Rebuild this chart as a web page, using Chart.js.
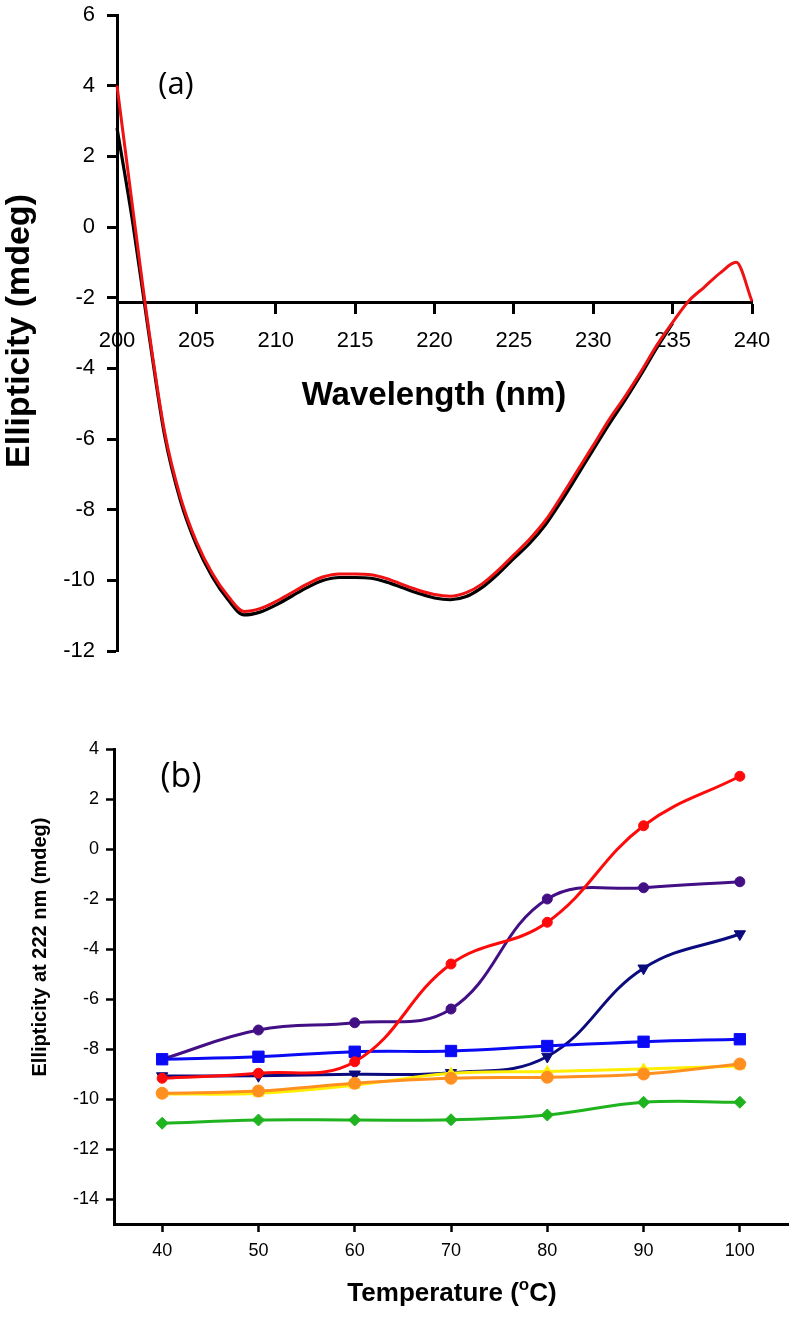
<!DOCTYPE html>
<html>
<head>
<meta charset="utf-8">
<script src="https://cdn.jsdelivr.net/npm/chart.js@4.4.1/dist/chart.umd.min.js"></script>
<style>
html,body{margin:0;padding:0;background:#fff;width:797px;height:1317px;overflow:hidden;}
#wrapA{position:absolute;left:0;top:0;width:797px;height:660px;}
#wrapB{position:absolute;left:0;top:660px;width:797px;height:657px;}
canvas{display:block;}
</style>
</head>
<body>
<div id="wrapA"><canvas id="chartA" width="797" height="660"></canvas></div>
<div id="wrapB"><canvas id="chartB" width="797" height="657"></canvas></div>
<script>
// ---------- Panel (a) data ----------
const wavelengths = [200,201,202,203,204,205,206,207,208,209,210,211,212,213,214,215,216,217,218,219,220,
                     221,222,223,224,225,226,227,228,229,230,231,232,233,234,235,236,237,238,239,240];
const redSpectrum = [4.0,0.5,-2.9,-5.8,-7.65,-8.9,-9.8,-10.45,-10.88,-10.8,-10.6,-10.35,-10.1,-9.9,-9.82,-9.82,-9.84,-9.95,-10.12,-10.28,-10.4,
                     -10.45,-10.35,-10.1,-9.72,-9.28,-8.83,-8.3,-7.62,-6.9,-6.18,-5.45,-4.8,-4.1,-3.35,-2.7,-2.1,-1.7,-1.3,-1.0,-2.1];
const blackWavelengths = [200,201,202,203,204,205,206,207,208,209,210,211,212,213,214,215,216,217,218,219,220,
                          221,222,223,224,225,226,227,228,229,230,231,232,233,234,235];
const blackSpectrum = [2.8,0.1,-3.0,-5.9,-7.75,-9.0,-9.9,-10.55,-10.98,-10.9,-10.7,-10.45,-10.2,-10.0,-9.92,-9.92,-9.94,-10.05,-10.21,-10.37,-10.5,
                       -10.55,-10.46,-10.2,-9.82,-9.38,-8.95,-8.42,-7.75,-7.03,-6.3,-5.58,-4.9,-4.18,-3.42,-2.72];
const wavelengthTicks = [200,205,210,215,220,225,230,235,240];
const ellipticityTicksA = [6,4,2,0,-2,-4,-6,-8,-10,-12];

// ---------- Panel (b) data ----------
const temperatures = [40,50,60,70,80,90,100];
const seriesRed    = [-9.17,-8.97,-8.51,-4.60,-2.93,0.93,2.91];
const seriesIndigo = [-8.41,-7.24,-6.95,-6.40,-2.00,-1.55,-1.31];
const seriesNavy   = [-9.08,-9.07,-9.01,-8.95,-8.30,-4.77,-3.40];
const seriesBlue   = [-8.41,-8.31,-8.11,-8.08,-7.88,-7.71,-7.61];
const seriesYellow = [-9.80,-9.77,-9.45,-8.97,-8.90,-8.80,-8.68];
const seriesOrange = [-9.77,-9.68,-9.37,-9.17,-9.13,-9.00,-8.60];
const seriesGreen  = [-10.97,-10.84,-10.84,-10.83,-10.64,-10.13,-10.13];
const temperatureTicks = [40,50,60,70,80,90,100];
const ellipticityTicksB = [4,2,0,-2,-4,-6,-8,-10,-12,-14];

Chart.defaults.color = '#000';
Chart.defaults.animation = false;

const freeText = {
  id: 'freeText',
  afterDraw(chart, args, opts) {
    const ctx = chart.ctx;
    (opts.items || []).forEach(it => {
      ctx.save();
      ctx.translate(it.x, it.y);
      if (it.rotate) ctx.rotate(it.rotate);
      ctx.fillStyle = '#000';
      ctx.textBaseline = 'middle';
      const parts = it.parts || [{t: it.text, font: it.font, dy: 0}];
      let total = 0;
      parts.forEach(p => { ctx.font = p.font; total += ctx.measureText(p.t).width; });
      let cx = -total / 2;
      ctx.textAlign = 'left';
      parts.forEach(p => { ctx.font = p.font; ctx.fillText(p.t, cx, p.dy || 0); cx += ctx.measureText(p.t).width; });
      ctx.restore();
    });
  }
};

const pts = (xs, ys) => xs.map((x, i) => ({x: x, y: ys[i]}));
const fixedTicks = arr => (scale => { scale.ticks = arr.map(v => ({value: v})); });
const noPadY = w => (s => { s.width = w; s.paddingTop = 0; s.paddingBottom = 0; });

// ---------- Chart (a) ----------
new Chart(document.getElementById('chartA'), {
  type: 'line',
  data: {
    datasets: [
      {label: 'red', data: pts(wavelengths, redSpectrum), borderColor: '#f01212', borderWidth: 3, pointRadius: 0, cubicInterpolationMode: 'monotone', clip: false},
      {label: 'black', data: pts(blackWavelengths, blackSpectrum), borderColor: '#000', borderWidth: 3.2, pointRadius: 0, cubicInterpolationMode: 'monotone', clip: false}
    ]
  },
  options: {
    responsive: false,
    layout: {padding: {left: 0, top: 15, right: 45, bottom: 9}},
    plugins: {
      legend: {display: false}, tooltip: {enabled: false},
      freeText: {items: [
        {text: '(a)', font: "31px 'Open Sans'", x: 176, y: 85},
        {text: 'Ellipticity (mdeg)', font: "bold 34px 'Liberation Sans'", x: 20, y: 331, rotate: -Math.PI/2},
        {text: 'Wavelength (nm)', font: "bold 33px 'Liberation Sans'", x: 434, y: 396}
      ]}
    },
    scales: {
      x: {
        type: 'linear', min: 200, max: 240,
        position: {y: -2.15},
        afterBuildTicks: fixedTicks(wavelengthTicks),
        afterFit: s => { s.paddingLeft = 0; s.paddingRight = 0; },
        grid: {drawOnChartArea: false, drawTicks: true, tickLength: 10, tickWidth: 3, tickColor: '#000'},
        border: {display: true, color: '#000', width: 3},
        ticks: {font: {family: "'Liberation Sans'", size: 22}, padding: 15, maxRotation: 0, autoSkip: false}
      },
      y: {
        type: 'linear', min: -12, max: 6,
        afterBuildTicks: fixedTicks(ellipticityTicksA),
        afterFit: noPadY(117),
        grid: {drawOnChartArea: false, drawTicks: true, tickLength: 10, tickWidth: 3, tickColor: '#000'},
        border: {display: true, color: '#000', width: 3},
        ticks: {font: {family: "'Liberation Sans'", size: 22}, padding: 12, autoSkip: false}
      }
    }
  },
  plugins: [freeText]
});

// ---------- Chart (b) ----------
function series(label, values, color, style, radius, rotation) {
  return {
    label: label, data: pts(temperatures, values),
    borderColor: color, backgroundColor: color,
    pointBackgroundColor: color, pointBorderColor: color, pointBorderWidth: 1,
    pointStyle: style, pointRadius: radius, pointRotation: rotation || 0,
    borderWidth: 3, tension: 0.4, clip: false
  };
}

new Chart(document.getElementById('chartB'), {
  type: 'line',
  data: {
    datasets: [
      series('red', seriesRed, '#ff0a0a', 'circle', 5),
      series('blue', seriesBlue, '#0a0af5', 'rect', 8),
      series('orange', seriesOrange, '#ff8f1f', 'circle', 6),
      series('yellow', seriesYellow, '#ffee00', 'triangle', 6),
      series('navy', seriesNavy, '#0b0b7e', 'triangle', 6.5, 180),
      series('indigo', seriesIndigo, '#430f85', 'circle', 5),
      series('green', seriesGreen, '#1fb31f', 'rectRot', 6)
    ]
  },
  options: {
    responsive: false,
    layout: {padding: {left: 0, top: 89, right: 9, bottom: 0}},
    plugins: {
      legend: {display: false}, tooltip: {enabled: false},
      freeText: {items: [
        {text: '(b)', font: "34px 'Open Sans'", x: 181, y: 117},
        {text: 'Ellipticity at 222 nm (mdeg)', font: "bold 20px 'Liberation Sans'", x: 40, y: 287, rotate: -Math.PI/2},
        {x: 452, y: 634, parts: [
          {t: 'Temperature (', font: "bold 26px 'Liberation Sans'"},
          {t: 'o', font: "bold 17px 'Liberation Sans'", dy: -9},
          {t: 'C)', font: "bold 26px 'Liberation Sans'"}
        ]}
      ]}
    },
    scales: {
      x: {
        type: 'linear', min: 35, max: 105, position: 'bottom',
        afterBuildTicks: fixedTicks(temperatureTicks),
        afterFit: s => { s.height = 93; },
        grid: {drawOnChartArea: false, drawTicks: true, tickLength: 8, tickWidth: 2.5, tickColor: '#000'},
        border: {display: true, color: '#000', width: 3},
        ticks: {font: {family: "'Liberation Sans'", size: 18}, padding: 8, maxRotation: 0, autoSkip: false}
      },
      y: {
        type: 'linear', min: -15, max: 4,
        afterBuildTicks: fixedTicks(ellipticityTicksB),
        afterFit: s => { s.width = 114; },
        grid: {drawOnChartArea: false, drawTicks: true, tickLength: 8, tickWidth: 2.5, tickColor: '#000'},
        border: {display: true, color: '#000', width: 3},
        ticks: {font: {family: "'Liberation Sans'", size: 18}, padding: 7, autoSkip: false}
      }
    }
  },
  plugins: [freeText]
});
</script>
</body>
</html>
